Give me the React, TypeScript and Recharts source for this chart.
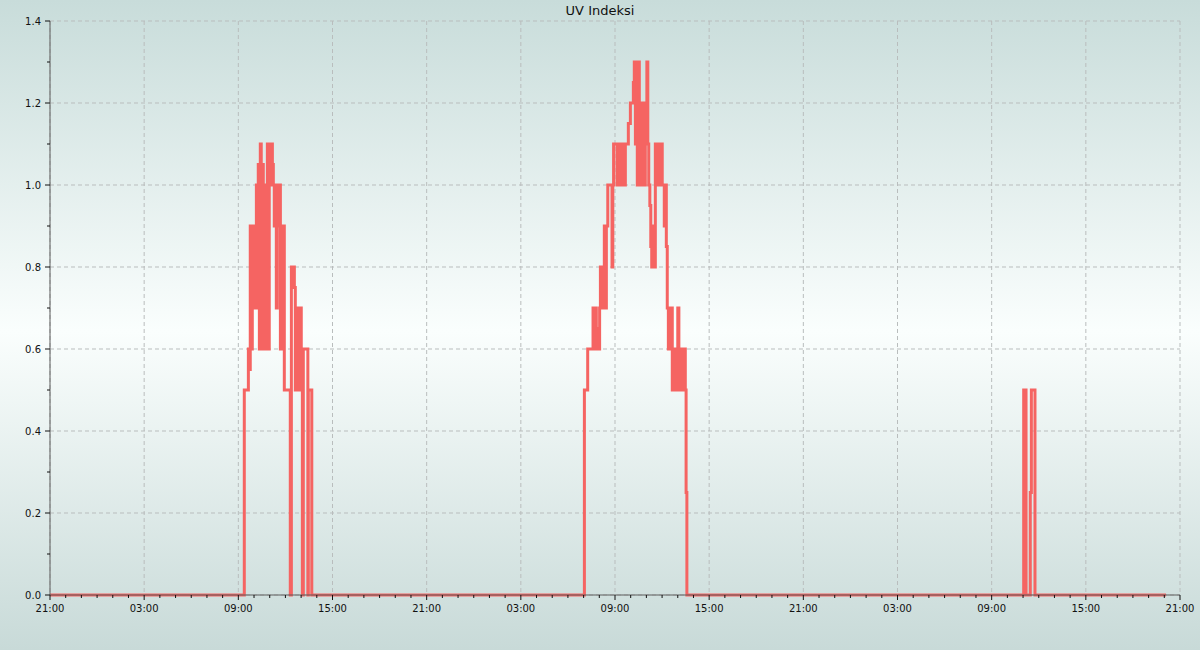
import { CartesianGrid, Line, LineChart, XAxis, YAxis } from "recharts";

// hours since 21:00 on the first day
const uvHours = [
  0, 12.38, 12.64, 12.7, 12.76, 12.83, 12.89, 12.96, 13.02, 13.08, 13.15, 13.21, 13.27, 13.34,
  13.4, 13.46, 13.53, 13.59, 13.66, 13.72, 13.78, 13.85, 13.91, 13.97, 14.04, 14.1, 14.17,
  14.23, 14.29, 14.36, 14.42, 14.48, 14.55, 14.61, 14.68, 14.74, 14.8, 14.87, 14.93, 15.31,
  15.38, 15.57, 15.63, 15.69, 15.76, 15.82, 15.89, 15.95, 16.01, 16.08, 16.14, 16.43, 16.46,
  16.68,
  34.05, 34.26, 34.6, 34.68, 34.75, 34.81, 34.87, 35.02, 35.07, 35.13, 35.19, 35.26, 35.32,
  35.38, 35.45, 35.54, 35.81, 35.86, 35.91, 36.13, 36.18, 36.28, 36.34, 36.4, 36.47, 36.59,
  36.66, 36.85, 36.98, 37.17, 37.23, 37.3, 37.36, 37.42, 37.49, 37.55, 37.61, 37.68, 37.74,
  37.8, 37.87, 37.93, 38.03, 38.09, 38.15, 38.22, 38.28, 38.34, 38.41, 38.47, 38.57, 38.66,
  38.73, 38.82, 38.89, 39.01, 39.14, 39.2, 39.27, 39.33, 39.4, 39.59, 39.65, 39.72, 39.78,
  39.85, 39.91, 40.0, 40.07, 40.16, 40.23, 40.29, 40.35, 40.42, 40.48, 40.53, 40.58,
  62.04, 62.19, 62.46, 62.53, 62.76, 71.11,
];

const uvValues = [
  0, 0.5, 0.6, 0.55, 0.9, 0.6, 0.75, 0.9, 0.7, 0.9, 1.0, 0.7, 1.05, 0.6,
  1.1, 0.6, 1.05, 0.65, 0.6, 0.7, 1.0, 1.1, 0.6, 1.1, 1.0, 1.1, 1.05,
  1.0, 0.9, 1.0, 0.7, 1.0, 0.9, 1.0, 0.6, 0.9, 0.7, 0.9, 0.5, 0,
  0.8, 0.75, 0.5, 0.7, 0.5, 0.7, 0.5, 0.7, 0.5, 0, 0.6, 0, 0.5,
  0,
  0.5, 0.6, 0.7, 0.6, 0.7, 0.65, 0.6, 0.7, 0.8, 0.7, 0.8, 0.7, 0.9,
  0.7, 0.9, 1.0, 0.8, 1.0, 1.1, 1.0, 1.1, 1.0, 1.1, 1.0, 1.1, 1.0,
  1.1, 1.15, 1.2, 1.25, 1.3, 1.1, 1.3, 1.0, 1.3, 1.1, 1.2, 1.0, 1.2,
  1.1, 1.0, 1.2, 1.3, 1.1, 1.0, 0.95, 0.85, 0.8, 0.9, 0.8, 1.1, 1.0,
  1.1, 1.0, 1.1, 1.0, 0.9, 1.0, 0.85, 0.7, 0.6, 0.7, 0.5, 0.6, 0.5,
  0.6, 0.5, 0.7, 0.5, 0.6, 0.5, 0.6, 0.5, 0.6, 0.5, 0.25, 0,
  0.5, 0, 0.25, 0.5, 0, 0,
];

const xTickLabels = [
  "21:00", "03:00", "09:00", "15:00", "21:00", "03:00", "09:00",
  "15:00", "21:00", "03:00", "09:00", "15:00", "21:00",
];
const majorHours = [0, 6, 12, 18, 24, 30, 36, 42, 48, 54, 60, 66, 72];
const majorUv = [0, 0.2, 0.4, 0.6, 0.8, 1.0, 1.2, 1.4];

const hourTicks = Array.from({ length: 73 }, (_, i) => i);
const tenthTicks = Array.from({ length: 15 }, (_, i) => i / 10);

const data = uvHours.map((h, i) => ({ h, uv: uvValues[i] }));

const FONT = "'DejaVu Sans', sans-serif";

const XTick = (props: any) => {
  const { x, y, payload } = props;
  const idx = majorHours.indexOf(payload.value);
  const major = idx >= 0;
  return (
    <g>
      <line x1={x} x2={x} y1={y} y2={y + (major ? 5 : 3)} stroke="#111" />
      {major && (
        <text x={x} y={y + 17} textAnchor="middle" fontSize={10} fontFamily={FONT} fill="#111">
          {xTickLabels[idx]}
        </text>
      )}
    </g>
  );
};

const YTick = (props: any) => {
  const { x, y, payload } = props;
  const major = Math.round(payload.value * 10) % 2 === 0;
  return (
    <g>
      <line x1={x - (major ? 5 : 3)} x2={x} y1={y} y2={y} stroke="#111" />
      {major && (
        <text x={x - 9} y={y + 4} textAnchor="end" fontSize={10} fontFamily={FONT} fill="#111">
          {payload.value.toFixed(1)}
        </text>
      )}
    </g>
  );
};

export default function App() {
  return (
    <div
      style={{
        position: "fixed",
        top: 0,
        left: 0,
        width: 1200,
        height: 650,
        background: "linear-gradient(to bottom, #c8dcda 0%, #fafefd 51%, #c8dad8 100%)",
      }}
    >
      <div
        style={{
          position: "absolute",
          top: 3,
          left: 0,
          width: 1200,
          textAlign: "center",
          fontFamily: FONT,
          fontSize: 13,
          color: "#111",
          lineHeight: "16px",
        }}
      >
        UV Indeksi
      </div>
      <LineChart
        width={1200}
        height={650}
        data={data}
        margin={{ top: 21, right: 20, bottom: 25, left: 0 }}
      >
        <CartesianGrid
          stroke="#b9bdbd"
          strokeDasharray="4 3"
          verticalValues={majorHours}
          horizontalValues={majorUv}
        />
        <XAxis
          dataKey="h"
          type="number"
          domain={[0, 72]}
          ticks={hourTicks}
          interval={0}
          tick={<XTick />}
          tickLine={false}
          tickSize={0}
          tickMargin={0}
          height={30}
          axisLine={{ stroke: "#5c5c5c" }}
        />
        <XAxis
          xAxisId="top"
          orientation="top"
          type="number"
          domain={[0, 72]}
          height={0}
          tick={false}
          tickLine={false}
          axisLine={{ stroke: "#5c5c5c" }}
        />
        <YAxis
          type="number"
          domain={[0, 1.4]}
          ticks={tenthTicks}
          interval={0}
          tick={<YTick />}
          tickLine={false}
          tickSize={0}
          tickMargin={0}
          width={50}
          axisLine={{ stroke: "#5c5c5c" }}
        />
        <YAxis
          yAxisId="right"
          orientation="right"
          type="number"
          domain={[0, 1.4]}
          width={0}
          tick={false}
          tickLine={false}
          axisLine={{ stroke: "#5c5c5c" }}
        />
        <Line
          type="stepAfter"
          dataKey="uv"
          stroke="#f56462"
          strokeWidth={3}
          dot={false}
          activeDot={false}
          isAnimationActive={false}
        />
      </LineChart>
    </div>
  );
}
